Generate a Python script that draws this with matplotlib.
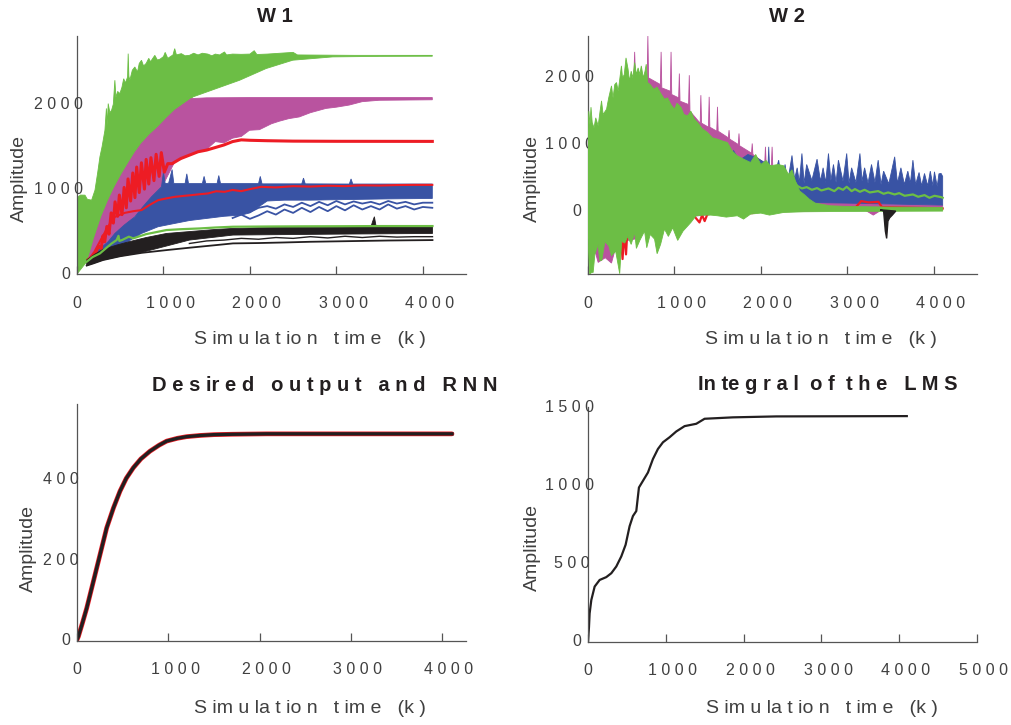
import matplotlib
matplotlib.use("Agg")
import matplotlib.pyplot as plt
from matplotlib.transforms import offset_copy

plt.rcParams['font.family'] = ['Liberation Sans', 'DejaVu Sans']

GREEN = '#6cbe45'
MAGENTA = '#b9539f'
RED = '#ed1c24'
BLUE = '#3953a4'
BLACK = '#231f20'
GREY = '#404040'

# ---- W 1 : weight trajectories, (k, value) points along the edges of each bundle ----
w1_green_top = [(0, 900), (40, 930), (92, 929), (120, 880), (169, 870), (208, 988), (240, 1200),
                (265, 1380), (290, 1500), (323, 1693), (340, 1950), (350, 1750), (361, 2007),
                (380, 1900), (400, 1929), (420, 2000), (438, 2282), (450, 2080), (470, 2150),
                (496, 2125), (520, 2200), (540, 2300), (560, 2250), (585, 2320), (592, 2595),
                (600, 2330), (611, 2282), (640, 2400), (669, 2438), (700, 2380), (720, 2480),
                (746, 2517), (770, 2450), (800, 2480), (830, 2540), (850, 2500), (900, 2575),
                (930, 2520), (960, 2530), (1000, 2560), (1020, 2610), (1050, 2540), (1080, 2560),
                (1110, 2580), (1130, 2654), (1150, 2580), (1207, 2595), (1250, 2570), (1300, 2575),
                (1350, 2600), (1400, 2580), (1450, 2600), (1514, 2590), (1560, 2570), (1600, 2590),
                (1650, 2580), (1706, 2615), (1730, 2580), (1800, 2590), (1899, 2587), (2000, 2590),
                (2050, 2630), (2080, 2585), (2200, 2590), (2500, 2610), (2550, 2580), (2800, 2578),
                (3200, 2575), (4110, 2575)]
w1_green_bot = [(4110, 2565), (3500, 2563), (2958, 2557), (2496, 2518), (2188, 2420), (1881, 2282),
                (1611, 2184), (1342, 2086), (1200, 1950), (1000, 1750), (800, 1450), (700, 1300),
                (600, 415), (458, 400), (265, 243), (112, 145), (0, 0)]

w1_mag_top = [(127, 165), (200, 420), (284, 674), (360, 860), (438, 1027), (520, 1180), (592, 1302),
              (670, 1430), (746, 1537), (840, 1640), (938, 1732), (1030, 1830), (1130, 1929),
              (1230, 2000), (1322, 2066), (1500, 2075), (2000, 2078), (4110, 2078)]
w1_mag_bot = [(4110, 2052), (3494, 2046), (3300, 2030), (3149, 1990), (3000, 1965), (2879, 1950),
              (2700, 1900), (2571, 1850), (2450, 1830), (2341, 1800), (2250, 1770), (2110, 1700),
              (1995, 1693), (1900, 1620), (1800, 1600), (1700, 1545), (1600, 1560), (1500, 1470),
              (1300, 1400), (1130, 1320), (1000, 1060), (861, 900), (669, 680), (438, 470),
              (250, 270), (127, 160)]

w1_red_hi = [(130, 170), (180, 200), (220, 260), (250, 330), (280, 300), (300, 450), (320, 380),
             (345, 560), (370, 470), (395, 720), (420, 600), (440, 850), (470, 680), (490, 930),
             (520, 700), (545, 1020), (570, 780), (590, 1120), (620, 860), (645, 1190), (670, 900),
             (690, 1260), (720, 960), (745, 1310), (780, 1000), (800, 1350), (830, 1060),
             (855, 1370), (890, 1100), (915, 1410), (950, 1150), (975, 1430), (1010, 1200),
             (1050, 1300), (1100, 1300), (1150, 1330), (1200, 1360), (1300, 1400), (1400, 1440),
             (1500, 1460), (1600, 1490), (1700, 1520), (1800, 1560), (1900, 1580), (2000, 1575),
             (2200, 1570), (2500, 1565), (3000, 1563), (4110, 1562)]
w1_red_lo = [(130, 165), (200, 260), (284, 420), (360, 560), (438, 674), (550, 720), (650, 740),
             (746, 753), (850, 820), (938, 870), (1030, 890), (1130, 909), (1230, 920), (1322, 929),
             (1420, 940), (1514, 949), (1610, 975), (1706, 968), (1800, 990), (1899, 976),
             (2000, 1000), (2130, 1027), (2300, 1020), (2500, 1035), (2700, 1030), (2900, 1040),
             (3100, 1035), (3300, 1045), (3500, 1042), (3700, 1048), (3900, 1050), (4110, 1050)]

w1_blue_top = [(130, 165), (246, 282), (360, 380), (438, 478), (550, 580), (669, 674), (760, 790),
               (861, 909), (977, 1027), (1000, 1200), (1020, 1065), (1060, 1070), (1100, 1230),
               (1120, 1065), (1250, 1065), (1270, 1180), (1290, 1065), (1450, 1065), (1470, 1150),
               (1490, 1065), (1620, 1065), (1640, 1160), (1660, 1065), (2100, 1065), (2120, 1150),
               (2140, 1062), (2600, 1062), (2620, 1130), (2640, 1062), (3150, 1060), (3170, 1120),
               (3190, 1060), (4110, 1060)]
w1_blue_bot = [(4110, 890), (3900, 888), (3600, 885), (3300, 880), (3000, 875), (2700, 870),
               (2400, 870), (2200, 860), (2000, 720), (1900, 694), (1700, 680), (1500, 655),
               (1300, 630), (1130, 596), (938, 557), (746, 478), (553, 360), (361, 282),
               (250, 200), (130, 126)]
w1_blue_wig_x = [1800, 1900, 2000, 2100, 2200, 2300, 2400, 2500, 2600, 2700, 2800, 2900, 3000,
                 3100, 3200, 3300, 3400, 3500, 3600, 3700, 3800, 3900, 4000, 4110]
w1_blue_wig1_y = [660, 700, 650, 690, 740, 700, 760, 720, 780, 730, 790, 740, 800, 750, 810, 760,
                  800, 760, 820, 770, 800, 760, 790, 780]
w1_blue_wig2_y = [720, 760, 730, 780, 800, 770, 820, 790, 840, 800, 850, 810, 860, 820, 855, 830,
                  850, 820, 860, 830, 850, 820, 840, 840]

w1_black_top = [(112, 165), (200, 230), (300, 290), (458, 341), (600, 380), (800, 430), (1035, 478),
                (1300, 500), (1600, 525), (1804, 537), (2100, 545), (2500, 550), (3000, 553),
                (3400, 555), (3420, 620), (3440, 675), (3460, 560), (3500, 556), (4112, 557)]
w1_black_bot = [(4112, 478), (3000, 470), (1804, 459), (1300, 400), (1035, 330), (750, 255),
                (500, 210), (300, 165), (188, 125), (112, 100)]
w1_black_low_x = [112, 188, 300, 500, 750, 1035, 1300, 1600, 1804, 2100, 2400, 2700, 3000, 3300,
                  3600, 3900, 4112]
w1_black_low_y = [100, 125, 165, 210, 250, 282, 310, 340, 361, 365, 372, 380, 385, 390, 395, 398,
                  400]
w1_black_mid_x = [1300, 1500, 1700, 1900, 2100, 2300, 2500, 2700, 2900, 3100, 3300, 3500, 3700,
                  3900, 4112]
w1_black_mid_y = [360, 390, 400, 420, 410, 430, 420, 440, 425, 445, 430, 445, 435, 440, 440]

w1_gline_x = [112, 180, 265, 330, 400, 458, 480, 490, 520, 600, 650, 800, 1035, 1200, 1420, 1600,
              1804, 2200, 2600, 3000, 3500, 4112]
w1_gline_y = [145, 200, 243, 300, 360, 400, 450, 390, 400, 440, 420, 470, 518, 528, 537, 548,
              557, 560, 562, 563, 565, 565]

# ---- W 2 ----
w2_green_top = [(0, 1200), (10, 1500), (23, 1300), (35, 1560), (49, 1330), (70, 1250), (90, 1400),
                (118, 1280), (140, 1500), (157, 1655), (175, 1450), (215, 1530), (240, 1700),
                (272, 1880), (290, 1700), (310, 1900), (330, 1930), (350, 1800), (387, 2180),
                (400, 2000), (420, 2050), (440, 2300), (464, 2130), (480, 1950), (500, 2100),
                (520, 2000), (540, 2230), (560, 2050), (580, 2150), (600, 2050), (617, 2180),
                (640, 2000), (660, 2100), (674, 2205), (690, 1930), (720, 1900), (760, 1830),
                (800, 1860), (850, 1750), (885, 1680), (920, 1700), (960, 1600), (1000, 1530),
                (1030, 1620), (1077, 1555), (1110, 1450), (1153, 1430), (1190, 1500), (1230, 1380),
                (1268, 1330), (1320, 1240), (1383, 1180), (1440, 1100), (1498, 1080), (1560, 1050),
                (1613, 1030), (1670, 900), (1728, 830), (1800, 780), (1881, 730), (1940, 850),
                (2000, 700), (2060, 760), (2110, 680), (2200, 700), (2264, 680), (2320, 550),
                (2360, 620), (2400, 450), (2450, 300), (2500, 250), (2560, 180), (2628, 120),
                (2800, 80), (3000, 70), (3500, 60), (4103, 55)]
w2_green_bot = [(4103, 0), (3000, -5), (2500, -10), (2264, -20), (2100, -60), (2000, -30),
                (1881, -45), (1800, -120), (1728, -70), (1600, -90), (1498, -70), (1420, -60),
                (1345, -60), (1250, -70), (1191, -170), (1100, -300), (1038, -440), (980, -250),
                (930, -380), (885, -270), (840, -500), (800, -640), (770, -420), (720, -350),
                (680, -550), (655, -300), (600, -440), (560, -560), (540, -320), (500, -500),
                (460, -380), (425, -480), (390, -450), (367, -940), (348, -800), (320, -600),
                (272, -670), (240, -520), (195, -460), (160, -740), (135, -740), (118, -500),
                (80, -650), (60, -920), (42, -920), (20, -950), (0, -400)]
w2_gline_x = [2206, 2300, 2360, 2420, 2475, 2530, 2590, 2650, 2700, 2782, 2850, 2897, 2950, 2993,
              3050, 3088, 3146, 3200, 3260, 3357, 3420, 3472, 3548, 3600, 3663, 3759, 3820, 3893,
              3950, 4008, 4085, 4103]
w2_gline_y = [600, 450, 500, 380, 340, 360, 320, 345, 310, 340, 300, 350, 320, 365, 300, 330, 290,
              320, 280, 300, 260, 280, 250, 270, 230, 250, 215, 240, 200, 230, 210, 200]

w2_mag_top = [(0, 600), (200, 1200), (400, 1900), (530, 2000), (540, 2390), (550, 2000),
              (685, 2000), (693, 2628), (701, 2000), (838, 1900), (846, 2390), (854, 1850),
              (953, 1800), (961, 2390), (969, 1750), (1049, 1700), (1057, 2065), (1065, 1650),
              (1164, 1600), (1172, 2040), (1180, 1500), (1298, 1320), (1306, 1740), (1314, 1320),
              (1394, 1260), (1402, 1715), (1410, 1260), (1490, 1200), (1498, 1565), (1506, 1200),
              (1624, 1100), (1632, 1215), (1640, 1080), (1739, 1000), (1747, 1165), (1755, 980),
              (1892, 870), (1900, 1015), (1908, 850), (2045, 720), (2053, 965), (2061, 720),
              (2122, 680), (2130, 965), (2138, 650), (2300, 480), (2360, 465), (2450, 330),
              (2628, 190), (2800, 150), (3000, 130), (3203, 115), (3500, 105), (4103, 90)]
w2_mag_bot = [(4103, 20), (3400, 20), (3300, -60), (3200, 20), (2000, -20), (1500, -40),
              (1200, -80), (1000, -200), (900, -250), (770, -350), (650, -300), (540, -420),
              (420, -450), (330, -500), (272, -780), (200, -700), (118, -770), (60, -500),
              (0, -300)]

w2_blue_top = [(1600, 700), (1683, 910), (1750, 760), (1850, 850), (1950, 800), (2083, 700),
               (2091, 965), (2099, 700), (2150, 480), (2206, 765), (2240, 450), (2280, 700),
               (2310, 430), (2360, 835), (2390, 480), (2420, 650), (2445, 430), (2475, 865),
               (2500, 420), (2530, 700), (2590, 460), (2650, 780), (2690, 450), (2720, 650),
               (2750, 430), (2782, 865), (2810, 460), (2840, 700), (2870, 430), (2897, 765),
               (2950, 450), (2993, 865), (3020, 420), (3050, 650), (3100, 430), (3146, 865),
               (3170, 450), (3200, 650), (3240, 420), (3280, 700), (3320, 430), (3357, 765),
               (3390, 400), (3420, 600), (3480, 410), (3548, 815), (3580, 420), (3620, 650),
               (3660, 400), (3700, 600), (3730, 420), (3759, 765), (3790, 400), (3830, 580),
               (3860, 380), (3893, 565), (3930, 380), (3960, 600), (3990, 380), (4008, 590),
               (4040, 370), (4060, 560), (4085, 565), (4103, 520)]
w2_blue_bot = [(4103, 90), (3000, 120), (2500, 130), (2000, 150), (1600, 200)]

w2_red_x = [0, 300, 380, 400, 420, 440, 460, 500, 1200, 1290, 1320, 1350, 1380, 1500, 1900,
            1950, 2500, 3100, 3160, 3250, 3360, 3400, 4103]
w2_red_y = [0, -100, -400, -720, -300, -650, -200, -100, -30, -170, -60, -150, -50, -20, -30,
            -10, 20, 60, 150, 130, 140, 60, 40]

w2_black_x = [3380, 3420, 3440, 3455, 3470, 3490, 3520, 3560]
w2_black_y = [20, 0, -300, -410, -150, -100, -60, 0]

# ---- Desired output and RNN ----
out_x = [0, 15, 60, 106, 160, 215, 270, 325, 400, 471, 540, 617, 700, 799, 900, 982, 1100, 1200,
         1347, 1500, 1700, 2077, 2500, 3000, 3500, 4109]
out_y = [3, 11, 45, 81, 130, 180, 230, 280, 330, 371, 403, 429, 451, 470, 485, 495, 502, 506,
         509, 511, 512, 513, 513, 513, 513, 513]

# ---- Integral of the LMS ----
lms_x = [0, 13, 21, 43, 86, 150, 235, 300, 364, 428, 484, 535, 578, 621, 655, 707, 771, 835, 899,
         964, 1049, 1135, 1242, 1392, 1499, 1863, 2420, 4098]
lms_y = [0, 96, 182, 268, 354, 396, 414, 439, 482, 546, 621, 739, 804, 836, 986, 1029, 1082,
         1168, 1232, 1275, 1307, 1344, 1378, 1393, 1425, 1434, 1440, 1442]

TICK_FS = 11.5
DIGIT_W = 0.556 * TICK_FS   # width of one digit in points
PX = 0.72                   # one pixel in points at 100 dpi


def spaced(s):
    return ' '.join(s)


def band(ax, top, bot, color, z):
    pts = list(top) + list(bot)
    ax.fill([p[0] for p in pts], [p[1] for p in pts], color=color, lw=0.6, ec=color, zorder=z)


def trace(ax, pts, color, lw, z):
    ax.plot([p[0] for p in pts], [p[1] for p in pts], color=color, lw=lw, zorder=z)


def style(ax, xlim, ylim, xticks, yticks, title, tx, ty, xl, yl):
    ax.set_xlim(*xlim)
    ax.set_ylim(*ylim)
    for side in ('top', 'right'):
        ax.spines[side].set_visible(False)
    for side in ('left', 'bottom'):
        ax.spines[side].set_color('#555555')
        ax.spines[side].set_linewidth(0.9)
    ax.set_xticks(xticks)
    ax.set_yticks(yticks)
    ax.tick_params(axis='x', direction='in', length=6, width=0.9, color='#555555',
                   labelbottom=False)
    ax.tick_params(axis='y', length=0, labelleft=False)

    # tick labels are letter-spaced and anchored like the unspaced text would be
    for t in xticks:
        s = str(t)
        tr = offset_copy(ax.get_xaxis_transform(), fig=ax.figure,
                         x=-len(s) * DIGIT_W / 2, y=-29 * PX, units='points')
        ax.text(t, 0, spaced(s), transform=tr, ha='left', va='center',
                fontsize=TICK_FS, color=GREY)
    for t in yticks:
        s = str(t)
        tr = offset_copy(ax.get_yaxis_transform(), fig=ax.figure,
                         x=-7 * PX - len(s) * DIGIT_W, y=0, units='points')
        ax.text(0, t, spaced(s), transform=tr, ha='left', va='center',
                fontsize=TICK_FS, color=GREY)

    ax.set_title(title, fontsize=14.5, fontweight='bold', color=BLACK, x=tx, y=ty,
                 va='center', pad=0)
    ax.set_xlabel('S im u la t io n   t im e   (k )', fontsize=14, color=GREY)
    ax.xaxis.set_label_coords(xl[0], xl[1])
    ax.xaxis.label.set_va('center')
    ax.set_ylabel('Amplitude', fontsize=14, color=GREY)
    ax.yaxis.set_label_coords(yl[0], yl[1])
    ax.yaxis.label.set_va('center')


fig = plt.figure(figsize=(10.12, 7.25), dpi=100)
ax1 = fig.add_axes([0.0761, 0.622, 0.3844, 0.328])
ax2 = fig.add_axes([0.581, 0.622, 0.3844, 0.328])
ax3 = fig.add_axes([0.0761, 0.1159, 0.3844, 0.3269])
ax4 = fig.add_axes([0.581, 0.1145, 0.3844, 0.3241])

# W 1
band(ax1, w1_green_top, w1_green_bot, GREEN, 1)
band(ax1, w1_mag_top, w1_mag_bot, MAGENTA, 2)
band(ax1, w1_blue_top, w1_blue_bot, BLUE, 3)
ax1.plot(w1_blue_wig_x, w1_blue_wig1_y, color=BLUE, lw=1.3, zorder=3)
ax1.plot(w1_blue_wig_x, w1_blue_wig2_y, color=BLUE, lw=1.3, zorder=3)
trace(ax1, w1_red_hi, RED, 2.2, 4)
trace(ax1, w1_red_lo, RED, 1.5, 4)
band(ax1, w1_black_top, w1_black_bot, BLACK, 5)
ax1.plot(w1_black_low_x, w1_black_low_y, color=BLACK, lw=1.3, zorder=5)
ax1.plot(w1_black_mid_x, w1_black_mid_y, color=BLACK, lw=1.0, zorder=5)
ax1.plot(w1_gline_x, w1_gline_y, color=GREEN, lw=1.6, zorder=6)
style(ax1, (0, 4500), (0, 2800), [0, 1000, 2000, 3000, 4000], [0, 1000, 2000],
      'W 1', 0.509, 1.084, (0.599, -0.277), (-0.149, 0.40))

# W 2
band(ax2, w2_mag_top, w2_mag_bot, MAGENTA, 1)
band(ax2, w2_blue_top, w2_blue_bot, BLUE, 2)
ax2.plot(w2_red_x, w2_red_y, color=RED, lw=1.6, zorder=3)
band(ax2, w2_green_top, w2_green_bot, GREEN, 4)
ax2.plot(w2_gline_x, w2_gline_y, color=GREEN, lw=1.6, zorder=5)
ax2.fill(w2_black_x, w2_black_y, color=BLACK, lw=1, zorder=6)
style(ax2, (0, 4500), (-945, 2625), [0, 1000, 2000, 3000, 4000], [0, 1000, 2000],
      'W 2', 0.512, 1.084, (0.600, -0.277), (-0.144, 0.40))

# Desired output (red) and network output (black)
ax3.plot(out_x, out_y, color=RED, lw=3.4, solid_capstyle='round')
ax3.plot(out_x, out_y, color=BLACK, lw=2.4)
style(ax3, (0, 4263), (0, 587), [0, 1000, 2000, 3000, 4000], [0, 200, 400],
      'D e s ir e d   o u t p u t   a n d   R N N', 0.638, 1.08, (0.599, -0.287),
      (-0.126, 0.392))

# LMS integral
ax4.plot(lms_x, lms_y, color=BLACK, lw=1.6)
style(ax4, (0, 5000), (0, 1500), [0, 1000, 2000, 3000, 4000, 5000], [0, 500, 1000, 1500],
      'In te g r a l  o f  t h e   L M S', 0.616, 1.094, (0.602, -0.285), (-0.144, 0.404))

fig.savefig('out.png', dpi=100)
